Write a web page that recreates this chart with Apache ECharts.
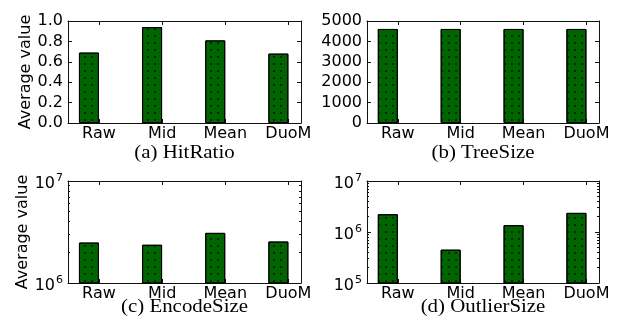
<!DOCTYPE html>
<html><head><meta charset="utf-8">
<script src="https://cdn.jsdelivr.net/npm/echarts@6/dist/echarts.min.js"></script>
<style>html,body{margin:0;padding:0;background:#fff}#c{width:625px;height:322px}</style>
</head><body><div id="c"></div>
<script>
// ---- data ----
const categories = ['Raw', 'Mid', 'Mean', 'DuoM'];
const hitRatio = [0.69, 0.94, 0.81, 0.68];
const treeSize = [4610, 4610, 4610, 4610];
const encodeSize = [2.49e6, 2.37e6, 3.1e6, 2.55e6];
const outlierSize = [2.23e6, 4.5e5, 1.36e6, 2.37e6];
const subtitles = ['(a) HitRatio', '(b) TreeSize', '(c) EncodeSize', '(d) OutlierSize'];
const yName = 'Average value';
const hitTicks = [0, 0.2, 0.4, 0.6, 0.8, 1.0];
const treeTicks = [0, 1000, 2000, 3000, 4000, 5000];
const encodeTicks = [1e6, 1e7];
const outlierTicks = [1e5, 1e6, 1e7];

// ---- layout ----
const SANS = 'DejaVu Sans';
const SERIF = 'Liberation Serif';
const panels = [
  {values: hitRatio, left: 68, top: 21, width: 233, height: 102, type: 'value', ticks: hitTicks, name: yName, fmt: v => v.toFixed(1), titleY: 153},
  {values: treeSize, left: 367, top: 21, width: 232, height: 102, type: 'value', ticks: treeTicks, name: '', fmt: v => String(Math.round(v)), titleY: 153},
  {values: encodeSize, left: 68, top: 181, width: 233, height: 102, type: 'log', ticks: encodeTicks, name: yName, titleY: 307},
  {values: outlierSize, left: 367, top: 181, width: 232, height: 102, type: 'log', ticks: outlierTicks, name: '', titleY: 307}
];

function minorTicks(ticks) {
  const out = [];
  for (let k = 0; k < ticks.length - 1; k++) {
    for (let m = 2; m <= 9; m++) out.push(ticks[k] * m);
  }
  return out;
}

const grid = [], xAxis = [], yAxis = [], series = [], graphic = [];
const lineStyle = {color: '#111', width: 1};
const catIdx = categories.map((c, i) => i);

panels.forEach((p, g) => {
  grid.push({left: p.left, top: p.top, width: p.width, height: p.height, containLabel: false});
  graphic.push({
    type: 'text', x: p.left + p.width / 2, y: p.titleY, scaleX: 1.16, silent: true,
    style: {text: subtitles[g], font: 'normal 18px "' + SERIF + '"', fill: '#000',
      textAlign: 'center', textVerticalAlign: 'middle'}
  });
  const xBase = {type: 'value', gridIndex: g, min: -0.49, max: 3.2, splitLine: {show: false},
    axisLine: {show: true, onZero: false, lineStyle}};
  xAxis.push(Object.assign({}, xBase, {
    position: 'bottom',
    axisTick: {show: true, inside: true, length: 4, customValues: catIdx, lineStyle},
    axisLabel: {customValues: catIdx, formatter: v => categories[Math.round(v)] || '', margin: 3,
      fontFamily: SANS, fontSize: 16, color: '#000'}
  }));
  xAxis.push(Object.assign({}, xBase, {
    position: 'top',
    axisTick: {show: true, inside: true, length: 4, customValues: catIdx, lineStyle},
    axisLabel: {show: false}
  }));
  const isLog = p.type === 'log';
  const yBase = {type: p.type, gridIndex: g, min: p.ticks[0], max: p.ticks[p.ticks.length - 1],
    splitLine: {show: false}, axisLine: {show: true, onZero: false, lineStyle}};
  if (isLog) yBase.logBase = 10;
  const fmt = isLog ? (v => '{b|10}{s|' + Math.round(Math.log10(v)) + '}') : p.fmt;
  const yLeftIndex = yAxis.length;
  yAxis.push(Object.assign({}, yBase, {
    position: 'left',
    name: p.name, nameLocation: 'middle', nameGap: 34,
    nameTextStyle: {fontFamily: SANS, fontSize: 16, color: '#000'},
    axisTick: {show: true, inside: true, length: 4, customValues: p.ticks, lineStyle},
    axisLabel: {customValues: p.ticks, formatter: fmt, margin: 5, fontFamily: SANS, fontSize: 16, color: '#000',
      rich: {b: {fontFamily: SANS, fontSize: 16, color: '#000', padding: [6, 0, 0, 0]},
             s: {fontFamily: SANS, fontSize: 11, color: '#000', padding: [0, 0, 6, 1]}}}
  }));
  yAxis.push(Object.assign({}, yBase, {
    position: 'right',
    axisTick: {show: true, inside: true, length: 4, customValues: p.ticks, lineStyle},
    axisLabel: {show: false}
  }));
  if (isLog) {
    const mt = minorTicks(p.ticks);
    ['left', 'right'].forEach(pos => {
      yAxis.push(Object.assign({}, yBase, {
        position: pos, axisLine: {show: false, onZero: false},
        axisTick: {show: true, inside: true, length: 2, customValues: mt, lineStyle},
        axisLabel: {show: false}
      }));
    });
  }
  series.push({
    type: 'bar', xAxisIndex: 2 * g, yAxisIndex: yLeftIndex, barWidth: 20, barGap: '0%',
    data: p.values.map((v, i) => [i, v]),
    itemStyle: {color: '#006400', borderColor: '#000', borderWidth: 1,
      decal: {symbol: 'circle', symbolSize: 1, dashArrayX: [1.5, 5], dashArrayY: [1.5, 5], color: 'rgba(0,0,0,0.75)'}},
    silent: true, animation: false
  });
  series.push({
    type: 'bar', xAxisIndex: 2 * g, yAxisIndex: yLeftIndex, barWidth: 20, barGap: '0%',
    data: p.values.map((v, i) => [i, null]), silent: true, animation: false
  });
});

const chart = echarts.init(document.getElementById('c'), null, {renderer: 'canvas'});
chart.setOption({animation: false, backgroundColor: '#fff', graphic, grid, xAxis, yAxis, series});
</script></body></html>
